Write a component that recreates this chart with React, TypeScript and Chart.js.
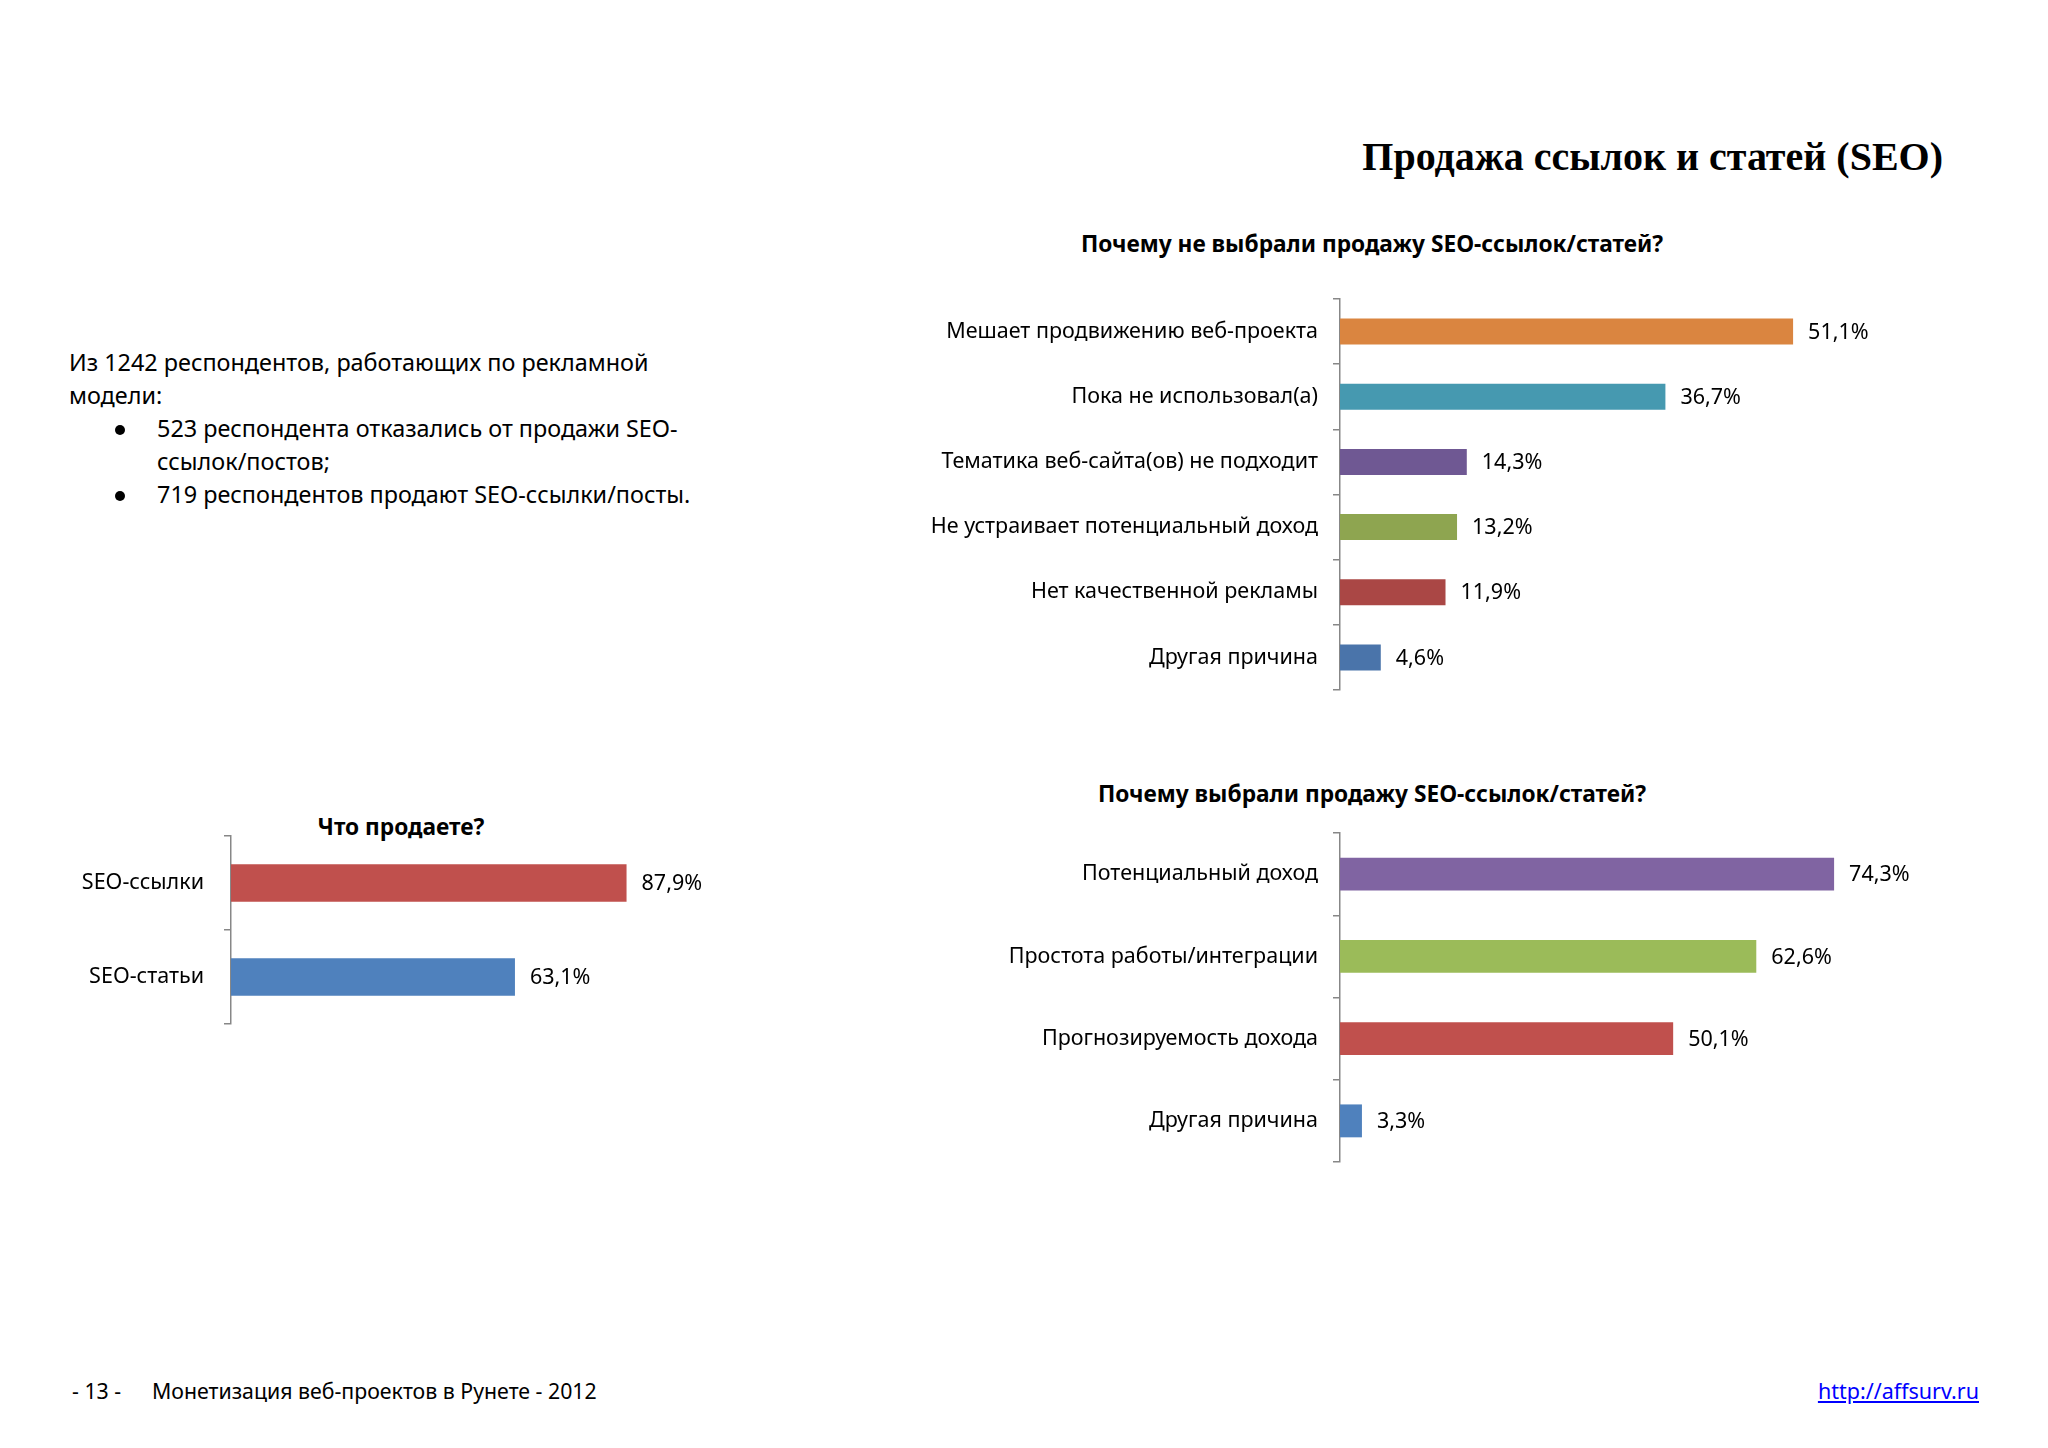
import React, { useEffect, useRef } from "react";
import { Chart, registerables } from "chart.js";

Chart.register(...registerables);

// ---------- data ----------
const notChosenLabels = [
  "Мешает продвижению веб-проекта",
  "Пока не использовал(а)",
  "Тематика веб-сайта(ов) не подходит",
  "Не устраивает потенциальный доход",
  "Нет качественной рекламы",
  "Другая причина",
];
const notChosenValues = [51.1, 36.7, 14.3, 13.2, 11.9, 4.6];
const notChosenColors = ["#DA8540", "#4699B0", "#6F5893", "#8EA550", "#AA4745", "#4A74AA"];

const chosenLabels = [
  "Потенциальный доход",
  "Простота работы/интеграции",
  "Прогнозируемость дохода",
  "Другая причина",
];
const chosenValues = [74.3, 62.6, 50.1, 3.3];
const chosenColors = ["#8064A2", "#9BBB59", "#C0504D", "#4F81BD"];

const sellLabels = ["SEO-ссылки", "SEO-статьи"];
const sellValues = [87.9, 63.1];
const sellColors = ["#C0504D", "#4F81BD"];

const FONT = "'Noto Sans', 'Open Sans', sans-serif";

const valueLabelPlugin = {
  id: "valueLabels",
  afterDatasetsDraw(chart: any) {
    const { ctx } = chart;
    const fs = chart.options.plugins.valueLabels?.size ?? 21;
    ctx.save();
    ctx.font = `${fs}px ${FONT}`;
    ctx.fillStyle = "#000";
    ctx.textBaseline = "middle";
    ctx.textAlign = "left";
    chart.data.datasets.forEach((ds: any, di: number) => {
      const meta = chart.getDatasetMeta(di);
      meta.data.forEach((el: any, i: number) => {
        const v = ds.data[i];
        const txt = v.toFixed(1).replace(".", ",") + "%";
        ctx.fillText(txt, el.x + 15, el.y + 1);
      });
    });
    ctx.restore();
  },
};

type BarProps = {
  labels: string[];
  values: number[];
  colors: string[];
  max: number;
  left: number;
  top: number;
  width: number;
  height: number;
  axisWidth: number;
  pad: number;
  padRight: number;
  fontSize: number;
  tickPadding: number;
};

function BarChart(p: BarProps) {
  const ref = useRef<HTMLCanvasElement | null>(null);
  useEffect(() => {
    if (!ref.current) return;
    const chart = new Chart(ref.current, {
      type: "bar",
      data: {
        labels: p.labels,
        datasets: [
          {
            data: p.values,
            backgroundColor: p.colors,
            borderWidth: 0,
            categoryPercentage: 1,
            barPercentage: 0.4,
          },
        ],
      },
      plugins: [valueLabelPlugin],
      options: {
        indexAxis: "y",
        animation: false,
        responsive: false,
        devicePixelRatio: 1,
        layout: { padding: { top: p.pad, bottom: p.pad, right: p.padRight, left: 0 } },
        plugins: {
          legend: { display: false },
          tooltip: { enabled: false },
          title: { display: false },
          // @ts-ignore
          valueLabels: { size: p.fontSize },
        },
        scales: {
          x: { min: 0, max: p.max, display: false },
          y: {
            grid: {
              display: true,
              offset: true,
              drawOnChartArea: false,
              drawTicks: true,
              tickLength: 7,
              color: "#878787",
              lineWidth: 1.5,
            },
            border: { display: true, color: "#878787", width: 1.5 },
            ticks: {
              color: "#000",
              padding: p.tickPadding,
              font: { family: FONT, size: p.fontSize },
            },
            afterFit: (s: any) => {
              s.width = p.axisWidth;
            },
          },
        },
      } as any,
    });
    return () => chart.destroy();
  }, []);
  return (
    <canvas
      ref={ref}
      width={p.width}
      height={p.height}
      style={{ position: "absolute", left: p.left, top: p.top, width: p.width, height: p.height }}
    />
  );
}

const abs = (extra: React.CSSProperties): React.CSSProperties => ({
  position: "absolute",
  whiteSpace: "nowrap",
  color: "#000",
  fontFamily: FONT,
  ...extra,
});

export default function App() {
  const bodyText: React.CSSProperties = { fontSize: 23.4, lineHeight: "33px" };
  const bulletDot: React.CSSProperties = {
    position: "absolute",
    width: 10,
    height: 10,
    borderRadius: "50%",
    background: "#000",
  };
  const chartTitle: React.CSSProperties = {
    transform: "translateX(-50%)",
    fontWeight: "bold",
    fontSize: 22.7,
    lineHeight: "30px",
  };
  return (
    <div
      style={{
        position: "absolute",
        left: 0,
        top: 0,
        width: 2048,
        height: 1448,
        background: "#fff",
        overflow: "hidden",
      }}
    >
      {/* page title */}
      <div
        style={abs({
          right: 2048 - 1943,
          top: 134,
          fontFamily: "'Liberation Serif', serif",
          fontWeight: "bold",
          fontSize: 40,
          lineHeight: "46px",
        })}
      >
        Продажа ссылок и статей (SEO)
      </div>

      {/* intro text */}
      <div style={abs({ left: 69, top: 346, ...bodyText })}>
        Из 1242 респондентов, работающих по рекламной
        <br />
        модели:
      </div>
      <div style={{ ...bulletDot, left: 115, top: 425 }} />
      <div style={abs({ left: 157, top: 412, ...bodyText })}>
        523 респондента отказались от продажи SEO-
        <br />
        ссылок/постов;
      </div>
      <div style={{ ...bulletDot, left: 115, top: 491 }} />
      <div style={abs({ left: 157, top: 478, ...bodyText })}>
        719 респондентов продают SEO-ссылки/посты.
      </div>

      {/* chart titles */}
      <div style={abs({ left: 1372, top: 229, ...chartTitle })}>
        Почему не выбрали продажу SEO-ссылок/статей?
      </div>
      <div style={abs({ left: 1372, top: 779, ...chartTitle })}>
        Почему выбрали продажу SEO-ссылок/статей?
      </div>
      <div style={abs({ left: 401, top: 812, ...chartTitle })}>Что продаете?</div>

      <BarChart
        labels={notChosenLabels}
        values={notChosenValues}
        colors={notChosenColors}
        max={60}
        left={900}
        top={265}
        width={1100}
        height={459}
        axisWidth={440}
        pad={34}
        padRight={128}
        fontSize={21.5}
        tickPadding={15}
      />
      <BarChart
        labels={chosenLabels}
        values={chosenValues}
        colors={chosenColors}
        max={80}
        left={900}
        top={799}
        width={1100}
        height={397}
        axisWidth={440}
        pad={34}
        padRight={128}
        fontSize={21.5}
        tickPadding={15}
      />
      <BarChart
        labels={sellLabels}
        values={sellValues}
        colors={sellColors}
        max={100}
        left={0}
        top={802}
        width={800}
        height={256}
        axisWidth={231}
        pad={34}
        padRight={119}
        fontSize={21.5}
        tickPadding={20}
      />

      {/* footer */}
      <div style={abs({ left: 72, top: 1377, fontSize: 21.3, lineHeight: "28px" })}>- 13 -</div>
      <div style={abs({ left: 152, top: 1377, fontSize: 21.3, lineHeight: "28px" })}>
        Монетизация веб-проектов в Рунете - 2012
      </div>
      <div
        style={abs({
          right: 2048 - 1979,
          top: 1377,
          fontSize: 21.5,
          lineHeight: "28px",
          color: "#0000FF",
          textDecoration: "underline",
        })}
      >
        http://affsurv.ru
      </div>
    </div>
  );
}
